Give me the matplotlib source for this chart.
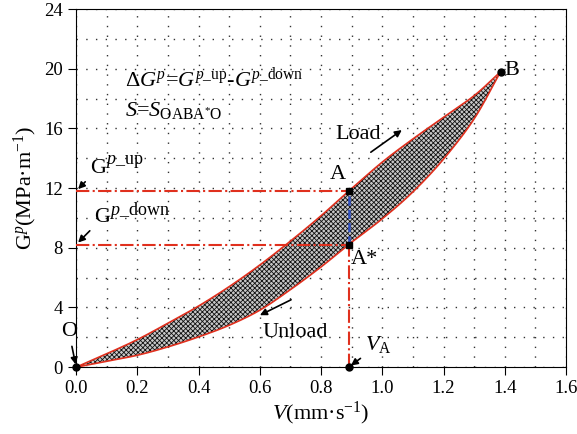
import numpy as np
import matplotlib
matplotlib.use("Agg")
import matplotlib.pyplot as plt
from matplotlib.ticker import MultipleLocator, FormatStrFormatter

plt.rcParams['font.family'] = ['Liberation Serif', 'DejaVu Serif']
plt.rcParams['mathtext.fontset'] = 'custom'
plt.rcParams['mathtext.rm'] = 'Liberation Serif'
plt.rcParams['mathtext.it'] = 'Liberation Serif:italic'
plt.rcParams['hatch.linewidth'] = 0.6

# load curve (upper) and unload curve (lower)
v_load = [0.0, 0.1, 0.2, 0.3, 0.4, 0.5, 0.6, 0.7, 0.8, 0.89, 1.0, 1.1, 1.2, 1.3, 1.386]
g_load = [0.0, 0.9, 1.85, 2.95, 4.1, 5.4, 6.85, 8.45, 10.15, 11.8, 13.75, 15.3, 16.75, 18.2, 19.8]
v_unload = [0.0, 0.1, 0.2, 0.3, 0.4, 0.5, 0.6, 0.7, 0.8, 0.89, 1.0, 1.1, 1.2, 1.3, 1.386]
g_unload = [0.0, 0.4, 0.8, 1.36, 2.03, 2.81, 3.82, 5.2, 6.72, 8.22, 9.95, 11.75, 13.95, 16.65, 19.8]

v_a = 0.89
g_up = 11.8
g_down = 8.22
v_b, g_b = 1.386, 19.8

red = '#e0301e'


def catmull(xs, ys, n=30):
    # smooth curve through the read points
    p = np.column_stack([xs, ys])
    p = np.vstack([2 * p[0] - p[1], p, 2 * p[-1] - p[-2]])
    out = []
    t = np.linspace(0, 1, n, endpoint=False)[:, None]
    for i in range(1, len(p) - 2):
        p0, p1, p2, p3 = p[i - 1], p[i], p[i + 1], p[i + 2]
        seg = 0.5 * (2 * p1 + (-p0 + p2) * t + (2 * p0 - 5 * p1 + 4 * p2 - p3) * t ** 2
                     + (-p0 + 3 * p1 - 3 * p2 + p3) * t ** 3)
        out.append(seg)
    out.append(p[-2][None, :])
    out = np.vstack(out)
    return out[:, 0], out[:, 1]


ux, uy = catmull(v_load, g_load)
lx, ly = catmull(v_unload, g_unload)
vv = np.linspace(0, v_b, 400)
up = np.interp(vv, ux, uy)
lo = np.interp(vv, lx, ly)

fig = plt.figure(figsize=(5.77, 4.34), dpi=100)
ax = fig.add_axes([0.132, 0.154, 0.849, 0.825])

ax.fill_between(vv, lo, up, facecolor='#c8c8c8', edgecolor='#111111', hatch='xxxxxxx', linewidth=0, zorder=2)
ax.plot(vv, up, color=red, lw=1.2, zorder=3)
ax.plot(vv, lo, color=red, lw=1.2, zorder=3)

ax.plot([0, v_a], [g_up, g_up], color=red, lw=1.5, ls='-.', zorder=4)
ax.plot([0, v_a], [g_down, g_down], color=red, lw=1.5, ls='-.', zorder=4)
ax.plot([v_a, v_a], [0, g_down], color=red, lw=1.5, ls='-.', zorder=4)
ax.plot([v_a, v_a], [g_down, g_up], color='#3050c0', lw=1.8, ls='--', zorder=4)

ax.plot([v_a, v_a], [g_up, g_down], 's', color='black', ms=5, zorder=5)
ax.plot([v_b, 0, v_a], [g_b, 0, 0], 'o', color='black', ms=5, zorder=5, clip_on=False)

ax.set_xlim(0, 1.6)
ax.set_ylim(0, 24)
ax.xaxis.set_major_locator(MultipleLocator(0.2))
ax.yaxis.set_major_locator(MultipleLocator(4))
ax.xaxis.set_minor_locator(MultipleLocator(0.1))
ax.yaxis.set_minor_locator(MultipleLocator(2))
ax.xaxis.set_major_formatter(FormatStrFormatter('%.1f'))
ax.tick_params(which='major', direction='out', length=6, labelsize=13.5)
ax.tick_params(which='minor', length=0)
ax.grid(which='both', color='#333333', linestyle=(0, (1, 6)), lw=1)

ax.set_xlabel(r'$V$(mm·s$^{-1}$)', fontsize=16, labelpad=2)
ax.set_ylabel(r'G$^{p}$(MPa·m$^{-1}$)', fontsize=16, labelpad=4)

ax.text(0.16, 19.3, r'$\Delta G^{p}$=$G^{p\_\mathrm{up}}$-$G^{p\_\mathrm{down}}$', fontsize=16, va='center')
ax.text(0.16, 17.2, r'$S$=$S_\mathrm{OABA^{*}O}$', fontsize=16, va='center')

arr = dict(arrowstyle='-|>', color='black', lw=1.2, mutation_scale=10)
t1 = ax.annotate('G', xy=(0, g_up), xytext=(0.045, 13.3), fontsize=16, arrowprops=arr, va='center')
ax.annotate('$p$_up', xy=(0.95, 0.62), xycoords=t1, fontsize=13, va='bottom')
t2 = ax.annotate('G', xy=(0, g_down), xytext=(0.06, 10.0), fontsize=16, arrowprops=arr, va='center')
ax.annotate('$p$_down', xy=(0.95, 0.62), xycoords=t2, fontsize=13, va='bottom')
ax.annotate('O', xy=(0, 0), xytext=(-0.05, 2.4), fontsize=16, arrowprops=arr, va='center')
ax.annotate(r'$V_\mathrm{A}$', xy=(v_a, 0), xytext=(0.945, 1.5), fontsize=16, arrowprops=arr, va='center')
ax.text(0.855, 12.9, 'A', fontsize=16, va='center', ha='center')
ax.text(0.94, 7.2, 'A*', fontsize=16, va='center', ha='center')
ax.text(1.40, 19.9, 'B', fontsize=16, va='center')
ax.text(0.845, 15.6, 'Load', fontsize=16, va='center')
ax.annotate('', xy=(1.071, 16.0), xytext=(0.955, 14.3), arrowprops=arr)
ax.text(0.61, 2.3, 'Unload', fontsize=16, va='center')
ax.annotate('', xy=(0.592, 3.4), xytext=(0.71, 4.6), arrowprops=arr)

fig.savefig('out.png', dpi=100)
